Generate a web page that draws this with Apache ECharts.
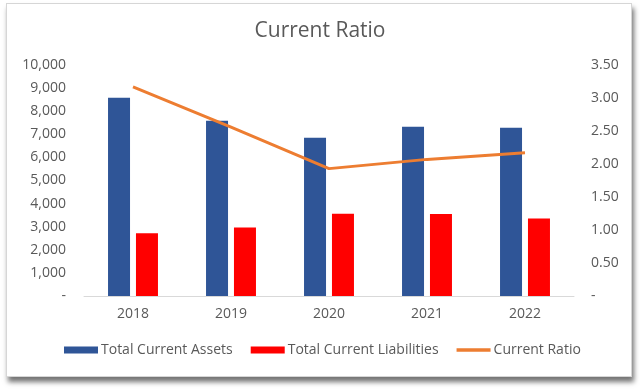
<!DOCTYPE html>
<html>
<head>
<meta charset="utf-8">
<script src="https://cdn.jsdelivr.net/npm/echarts@6/dist/echarts.min.js"></script>
<style>
html,body{margin:0;padding:0;background:#fff;width:640px;height:390px;overflow:hidden;}
#frame{position:absolute;left:6px;top:3px;width:626px;height:374px;border:1px solid #d6d6d6;box-sizing:border-box;background:#fff;box-shadow:2px 5px 5px rgba(0,0,0,0.55);}
#chart{position:absolute;left:0;top:0;width:626px;height:374px;}
</style>
</head>
<body>
<div id="frame"><div id="chart"></div></div>
<script>
const categories = ['2018', '2019', '2020', '2021', '2022'];
const totalCurrentAssets = [8580, 7590, 6850, 7330, 7280];
const totalCurrentLiabilities = [2715, 2970, 3560, 3550, 3360];
const currentRatio = [3.17, 2.56, 1.93, 2.07, 2.17];
const leftTicks = { min: 0, max: 10000, interval: 1000 };
const rightTicks = { min: 0, max: 3.5, interval: 0.5 };

const FONT = 'Open Sans';
const GREY = '#595959';
const chart = echarts.init(document.getElementById('chart'));
chart.setOption({
  animation: false,
  textStyle: { fontFamily: FONT },
  title: {
    text: 'Current Ratio', left: 'center', top: 12,
    textStyle: { fontFamily: FONT, fontSize: 21, fontWeight: 'normal', color: GREY }
  },
  grid: { left: 77, right: 59, top: 61, bottom: 82, containLabel: false },
  legend: {
    left: 57, top: 339, padding: 0, itemWidth: 34, itemHeight: 7, itemGap: 18,
    textStyle: { fontFamily: FONT, fontSize: 14, color: GREY, padding: [0, 0, 0, -2] },
    data: [
      { name: 'Total Current Assets', icon: 'rect' },
      { name: 'Total Current Liabilities', icon: 'rect' },
      { name: 'Current Ratio', icon: 'path://M0,0 H34 V3.5 H0 Z', itemStyle: { color: '#ED7D31' } }
    ]
  },
  xAxis: {
    type: 'category', data: categories,
    axisLine: { lineStyle: { color: '#d9d9d9', width: 1 } },
    axisTick: { show: false },
    axisLabel: { color: GREY, fontSize: 14, margin: 11, fontFamily: FONT }
  },
  yAxis: [
    {
      type: 'value', min: leftTicks.min, max: leftTicks.max, interval: leftTicks.interval,
      splitLine: { show: false }, axisLine: { show: false }, axisTick: { show: false },
      axisLabel: { color: GREY, fontSize: 14, margin: 18, fontFamily: FONT,
        formatter: v => v === 0 ? '-' : v.toLocaleString('en-US') }
    },
    {
      type: 'value', min: rightTicks.min, max: rightTicks.max, interval: rightTicks.interval,
      splitLine: { show: false }, axisLine: { show: false }, axisTick: { show: false },
      axisLabel: { color: GREY, fontSize: 14, margin: 17, fontFamily: FONT,
        formatter: v => v === 0 ? '-' : v.toFixed(2) }
    }
  ],
  series: [
    {
      name: 'Total Current Assets', type: 'bar', data: totalCurrentAssets,
      barWidth: 22, barGap: '27%', itemStyle: { color: '#2F5597' }
    },
    {
      name: 'Total Current Liabilities', type: 'bar', data: totalCurrentLiabilities,
      barWidth: 22, itemStyle: { color: '#FF0000' }
    },
    {
      name: 'Current Ratio', type: 'line', yAxisIndex: 1, data: currentRatio,
      symbol: 'none', showSymbol: false,
      lineStyle: { color: '#ED7D31', width: 3 }, itemStyle: { color: '#ED7D31' }
    }
  ]
});
</script>
</body>
</html>
